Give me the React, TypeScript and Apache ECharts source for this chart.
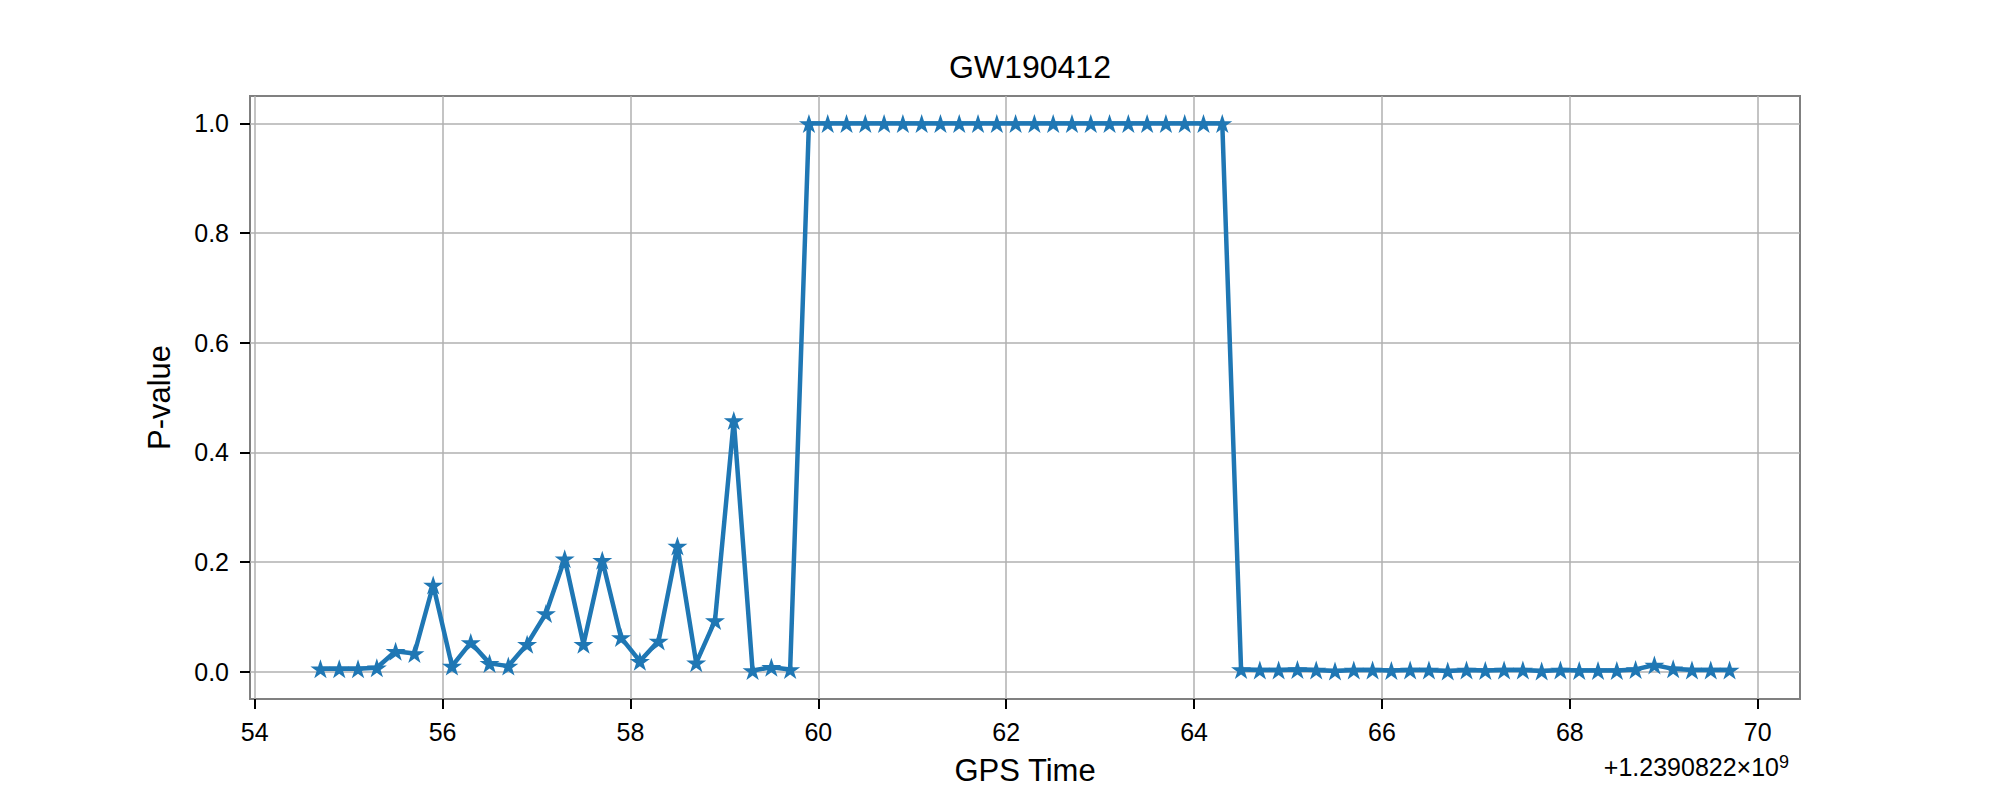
import React, { useEffect, useRef } from "react";
import * as echarts from "echarts";

const TITLE = "GW190412";
const X_NAME = "GPS Time";
const Y_NAME = "P-value";
const X_OFFSET_MANTISSA = "+1.2390822×10";
const X_OFFSET_EXPONENT = "9";

const xTicks = [54, 56, 58, 60, 62, 64, 66, 68, 70];
const yTicks = [0, 0.2, 0.4, 0.6, 0.8, 1.0];

// GPS time minus 1.2390822e9 (s)
const gpsOffsets = [
  54.7, 54.9, 55.1, 55.3, 55.5, 55.7, 55.9, 56.1, 56.3, 56.5,
  56.7, 56.9, 57.1, 57.3, 57.5, 57.7, 57.9, 58.1, 58.3, 58.5,
  58.7, 58.9, 59.1, 59.3, 59.5, 59.7, 59.9, 60.1, 60.3, 60.5,
  60.7, 60.9, 61.1, 61.3, 61.5, 61.7, 61.9, 62.1, 62.3, 62.5,
  62.7, 62.9, 63.1, 63.3, 63.5, 63.7, 63.9, 64.1, 64.3, 64.5,
  64.7, 64.9, 65.1, 65.3, 65.5, 65.7, 65.9, 66.1, 66.3, 66.5,
  66.7, 66.9, 67.1, 67.3, 67.5, 67.7, 67.9, 68.1, 68.3, 68.5,
  68.7, 68.9, 69.1, 69.3, 69.5, 69.7,
];

const pValues = [
  0.005, 0.005, 0.005, 0.007, 0.037, 0.033, 0.158, 0.010, 0.053, 0.015,
  0.010, 0.050, 0.106, 0.206, 0.050, 0.203, 0.062, 0.019, 0.056, 0.229,
  0.016, 0.093, 0.458, 0.002, 0.008, 0.004, 1.0, 1.0, 1.0, 1.0,
  1.0, 1.0, 1.0, 1.0, 1.0, 1.0, 1.0, 1.0, 1.0, 1.0,
  1.0, 1.0, 1.0, 1.0, 1.0, 1.0, 1.0, 1.0, 1.0, 0.004,
  0.003, 0.003, 0.004, 0.003, 0.001, 0.003, 0.003, 0.002, 0.003, 0.003,
  0.001, 0.003, 0.002, 0.003, 0.003, 0.001, 0.003, 0.002, 0.002, 0.002,
  0.004, 0.012, 0.005, 0.003, 0.003, 0.003,
];

const FONT = "'Liberation Sans', Arial, Helvetica, sans-serif";
const STAR =
  "path://M0,-1L0.2245,-0.309L0.951,-0.309L0.3633,0.118L0.588,0.809L0,0.382L-0.588,0.809L-0.3633,0.118L-0.951,-0.309L-0.2245,-0.309Z";

export default function App() {
  const ref = useRef<HTMLDivElement>(null);

  useEffect(() => {
    document.body.style.margin = "0";
    if (!ref.current) return;
    const chart = echarts.init(ref.current, undefined, { renderer: "svg" });
    const data = gpsOffsets.map((x, i) => [x, pValues[i]]);

    chart.setOption({
      animation: false,
      backgroundColor: "#ffffff",
      textStyle: { fontFamily: FONT },
      title: {
        text: TITLE,
        left: 1025,
        top: 46,
        textAlign: "center",
        textStyle: { fontFamily: FONT, fontSize: 32, fontWeight: "normal", color: "#000" },
      },
      grid: {
        left: 250,
        right: 200,
        top: 96,
        bottom: 101,
        show: true,
        borderColor: "#808080",
        borderWidth: 2,
        backgroundColor: "transparent",
      },
      xAxis: {
        type: "value",
        min: 53.95,
        max: 70.45,
        name: X_NAME,
        nameLocation: "middle",
        nameGap: 56,
        nameTextStyle: { fontFamily: FONT, fontSize: 31, color: "#000" },
        axisLine: { show: false, onZero: false },
        axisTick: {
          show: true,
          inside: false,
          length: 10,
          customValues: xTicks,
          lineStyle: { color: "#000", width: 2 },
        },
        axisLabel: {
          customValues: xTicks,
          margin: 20,
          fontFamily: FONT,
          fontSize: 25,
          color: "#000",
          formatter: (v: number) => String(Math.round(v)),
        },
        splitLine: { show: true, lineStyle: { color: "#b0b0b0", width: 1.5 } },
      },
      yAxis: {
        type: "value",
        min: -0.05,
        max: 1.05,
        name: Y_NAME,
        nameLocation: "middle",
        nameRotate: 90,
        nameGap: 75,
        nameTextStyle: { fontFamily: FONT, fontSize: 31, color: "#000" },
        axisLine: { show: false, onZero: false },
        axisTick: {
          show: true,
          inside: false,
          length: 10,
          customValues: yTicks,
          lineStyle: { color: "#000", width: 2 },
        },
        axisLabel: {
          customValues: yTicks,
          margin: 21,
          fontFamily: FONT,
          fontSize: 25,
          color: "#000",
          formatter: (v: number) => v.toFixed(1),
        },
        splitLine: { show: true, lineStyle: { color: "#b0b0b0", width: 1.5 } },
      },
      graphic: [
        {
          type: "text",
          x: 1779,
          y: 779,
          style: {
            text: X_OFFSET_MANTISSA,
            fontFamily: FONT,
            fontSize: 25,
            fill: "#000",
            align: "right",
            verticalAlign: "bottom",
          },
        },
        {
          type: "text",
          x: 1779,
          y: 771,
          style: {
            text: X_OFFSET_EXPONENT,
            fontFamily: FONT,
            fontSize: 18,
            fill: "#000",
            align: "left",
            verticalAlign: "bottom",
          },
        },
      ],
      series: [
        {
          type: "line",
          data,
          symbol: STAR,
          symbolSize: 20,
          symbolKeepAspect: true,
          color: "#1f77b4",
          itemStyle: { color: "#1f77b4" },
          lineStyle: { color: "#1f77b4", width: 4.5 },
          emphasis: { disabled: true },
        },
      ],
    });

    return () => chart.dispose();
  }, []);

  return <div ref={ref} style={{ width: 2000, height: 800 }} />;
}
